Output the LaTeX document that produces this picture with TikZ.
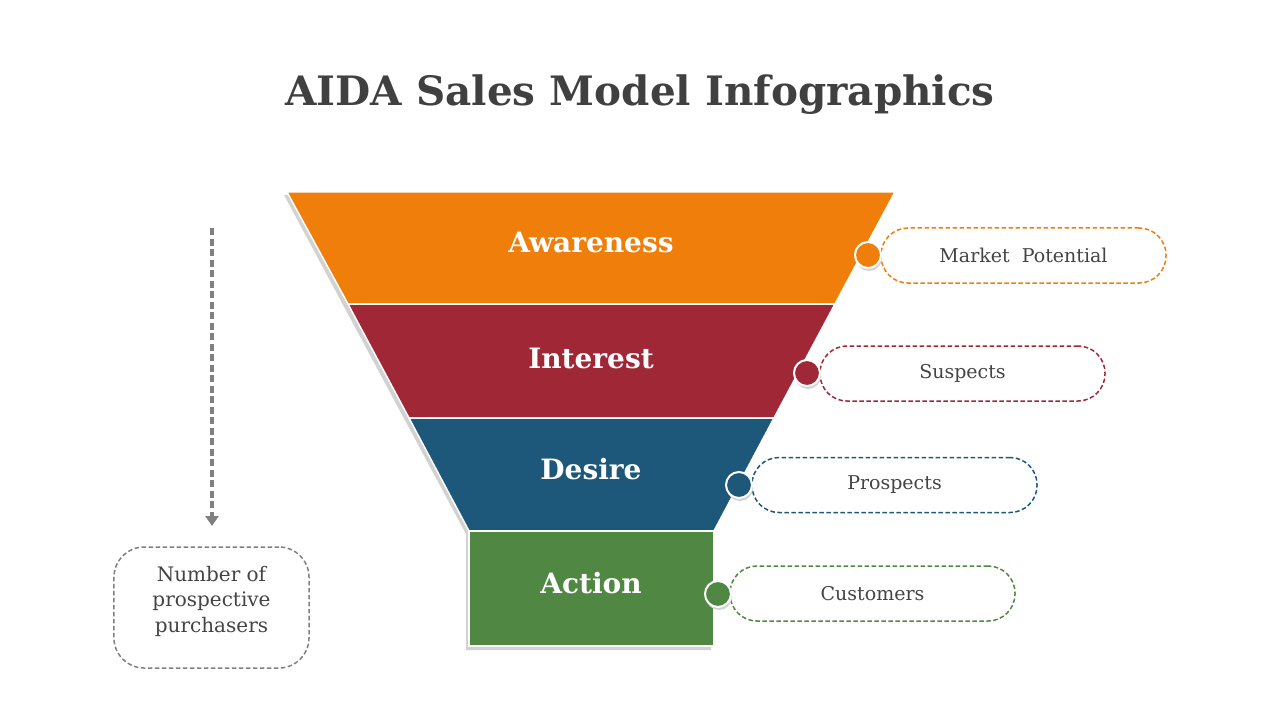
\documentclass[tikz,border=0pt]{standalone}
\usepackage{fontspec}
\setmainfont{DejaVu Serif}
\usetikzlibrary{arrows.meta}
\definecolor{aorange}{RGB}{239,127,10}
\definecolor{ared}{RGB}{160,39,54}
\definecolor{ablue}{RGB}{29,88,123}
\definecolor{agreen}{RGB}{79,135,67}
\definecolor{titlegray}{RGB}{64,64,64}
\definecolor{txtgray}{RGB}{68,68,68}
\definecolor{dashgray}{RGB}{128,128,128}
\definecolor{shadowgray}{RGB}{210,210,210}
\tikzset{
  seg/.style={fill=#1, draw=white, line width=1.5bp},
  seglabel/.style={text=white, font=\fontsize{28bp}{34bp}\selectfont\bfseries},
  dot/.style={circle, fill=#1, draw=white, line width=2bp, minimum size=26bp, inner sep=0pt},
  dotshadow/.style={circle, fill=shadowgray, minimum size=26bp, inner sep=0pt},
  pill/.style={draw=#1, dashed, dash pattern=on 4.5bp off 2.5bp, line width=1.5bp, rounded corners=27bp,
    minimum width=285bp, minimum height=55bp, text=txtgray, font=\fontsize{19bp}{23bp}\selectfont},
}
\begin{document}
\begin{tikzpicture}[x=1bp,y=-1bp]
\useasboundingbox (0,0) rectangle (1280,720);
% title
\node[text=titlegray, font=\fontsize{40.5bp}{48bp}\selectfont\bfseries] (title) at (640,95) {AIDA Sales Model Infographics};
% funnel shadow
\fill[shadowgray] (284,195) -- (892,195) -- (711,534) -- (711,650) -- (466,650) -- (466,534) -- cycle;
% segments
\path[seg=aorange] (287,192) -- (895,192) -- (835,304) -- (348,304) -- cycle;
\path[seg=ared] (348,304) -- (835,304) -- (774,418) -- (409,418) -- cycle;
\path[seg=ablue] (409,418) -- (774,418) -- (714,531) -- (469,531) -- cycle;
\path[seg=agreen] (469,531) -- (714,531) -- (714,646) -- (469,646) -- cycle;
\node[seglabel] (aw) at (591,242) {Awareness};
\node[seglabel] (in) at (591,358) {Interest};
\node[seglabel] (de) at (591,469) {Desire};
\node[seglabel] (ac) at (591,583) {Action};
% pills
\node[pill=aorange] (p1) at (1023.5,255.5) {Market\ \ Potential};
\node[pill=ared] (p2) at (962.5,373.5) {Suspects};
\node[pill=ablue] (p3) at (894.5,485) {Prospects};
\node[pill=agreen] (p4) at (872.5,593.5) {Customers};
% dots
\node[dotshadow] at (869,258) {};
\node[dot=aorange] (d1) at (868,255) {};
\node[dotshadow] at (808,376) {};
\node[dot=ared] (d2) at (807,373) {};
\node[dotshadow] at (740,488) {};
\node[dot=ablue] (d3) at (739,485) {};
\node[dotshadow] at (719,597) {};
\node[dot=agreen] (d4) at (718,594) {};
% left arrow and box
\coordinate (a1) at (212,228);
\coordinate (a2) at (212,526);
\draw[dashgray, line width=3.5bp, dash pattern=on 7bp off 3.5bp, -{Triangle[width=13bp,length=10bp]}] (a1) -- (a2);
\node[draw=dashgray, dashed, dash pattern=on 4.5bp off 2.5bp, line width=1.5bp, rounded corners=30bp,
  minimum width=195bp, minimum height=121bp] (box) at (211.5,607.5) {};
\node[text=txtgray, align=center, font=\fontsize{20bp}{25.5bp}\selectfont] (boxtext) at (211.5,601) {Number of\\prospective\\purchasers};
\end{tikzpicture}
\end{document}
